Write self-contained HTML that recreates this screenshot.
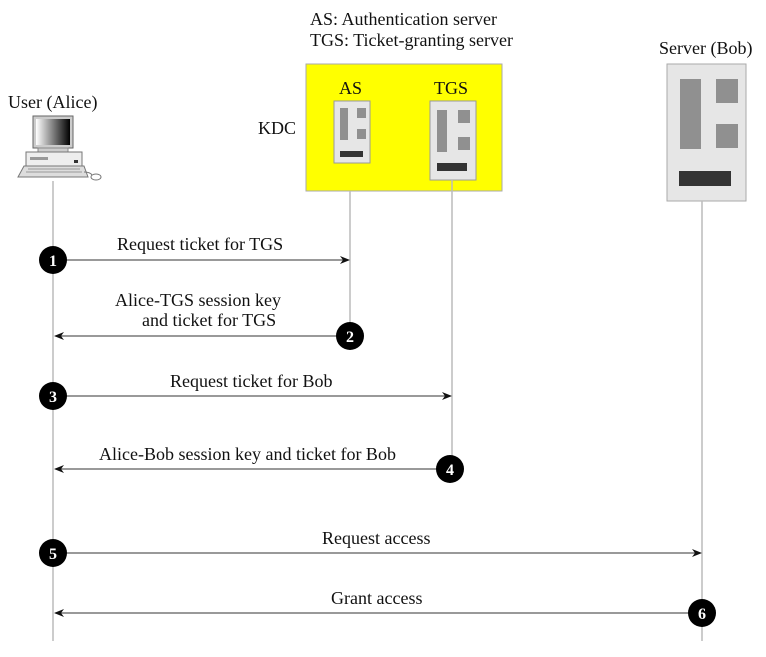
<!DOCTYPE html>
<html><head><style>
html,body{margin:0;padding:0;background:#fff;}
svg{display:block;}
text{font-family:"Liberation Serif",serif;font-size:18px;fill:#111;}
.c{fill:#fff;font-weight:bold;font-size:16px;}
</style></head><body>
<svg width="766" height="657" viewBox="0 0 766 657">
<defs><marker id="a" markerWidth="10" markerHeight="8" refX="9" refY="4" orient="auto" markerUnits="userSpaceOnUse"><path d="M0,0 L10,4 L0,8 L3,4z" fill="#111"/></marker></defs>
<text x="310" y="25">AS: Authentication server</text>
<text x="310" y="46">TGS: Ticket-granting server</text>
<text x="8" y="108">User (Alice)</text>
<text x="258" y="134">KDC</text>
<text x="659" y="54">Server (Bob)</text>
<!-- KDC -->
<rect x="306" y="64" width="196" height="127" fill="#ffff00" stroke="#aaa"/>
<text x="339" y="94">AS</text>
<text x="434" y="94">TGS</text>
<rect x="334" y="101" width="36" height="62" fill="#e6e6e6" stroke="#999"/>
<rect x="340" y="108" width="8" height="32" fill="#909090"/>
<rect x="357" y="108" width="9" height="10" fill="#909090"/>
<rect x="357" y="129" width="9" height="10" fill="#909090"/>
<rect x="340" y="151" width="23" height="6" fill="#333"/>
<rect x="430" y="101" width="46" height="79" fill="#e6e6e6" stroke="#999"/>
<rect x="437" y="110" width="10" height="42" fill="#909090"/>
<rect x="458" y="110" width="12" height="13" fill="#909090"/>
<rect x="458" y="137" width="12" height="13" fill="#909090"/>
<rect x="437" y="163" width="30" height="8" fill="#333"/>
<!-- Bob -->
<rect x="667" y="64" width="79" height="137" fill="#e6e6e6" stroke="#aaa"/>
<rect x="680" y="79" width="21" height="70" fill="#909090"/>
<rect x="716" y="79" width="22" height="24" fill="#909090"/>
<rect x="716" y="124" width="22" height="24" fill="#909090"/>
<rect x="679" y="171" width="52" height="15" fill="#333"/>
<!-- computer -->
<defs><linearGradient id="g" x1="0" x2="1"><stop offset="0" stop-color="#fff"/><stop offset="1" stop-color="#000"/></linearGradient></defs>
<rect x="33" y="116" width="40" height="32" fill="#ccc" stroke="#666"/>
<rect x="36" y="119" width="34" height="26" fill="url(#g)"/>
<rect x="38" y="148" width="30" height="4" fill="#ccc" stroke="#888"/>
<rect x="26" y="152" width="56" height="14" fill="#eee" stroke="#777"/>
<rect x="30" y="157" width="18" height="3" fill="#999"/>
<rect x="74" y="160" width="4" height="3" fill="#333"/>
<path d="M24 166 L84 166 L88 177 L18 177z" fill="#ddd" stroke="#777"/>
<path d="M28 169 L80 169 M26 172 L82 172" stroke="#999"/>
<ellipse cx="96" cy="177" rx="5" ry="3" fill="#fff" stroke="#777"/>
<path d="M84 172 Q90 172 92 175" fill="none" stroke="#777"/>
<!-- lifelines -->
<g stroke="#bbb" stroke-width="1.5">
<line x1="53" y1="181" x2="53" y2="641"/>
<line x1="350" y1="191" x2="350" y2="324"/>
<line x1="452" y1="180" x2="452" y2="457"/>
<line x1="702" y1="201" x2="702" y2="641"/>
</g>
<!-- arrows -->
<g stroke="#333" stroke-width="1">
<line x1="60" y1="260" x2="349" y2="260" marker-end="url(#a)"/>
<line x1="345" y1="336" x2="55" y2="336" marker-end="url(#a)"/>
<line x1="60" y1="396" x2="451" y2="396" marker-end="url(#a)"/>
<line x1="445" y1="469" x2="55" y2="469" marker-end="url(#a)"/>
<line x1="60" y1="553" x2="701" y2="553" marker-end="url(#a)"/>
<line x1="697" y1="613" x2="55" y2="613" marker-end="url(#a)"/>
</g>
<text x="117" y="250">Request ticket for TGS</text>
<text x="115" y="306">Alice-TGS session key</text>
<text x="142" y="326">and ticket for TGS</text>
<text x="170" y="387">Request ticket for Bob</text>
<text x="99" y="460">Alice-Bob session key and ticket for Bob</text>
<text x="322" y="544">Request access</text>
<text x="331" y="604">Grant access</text>
<!-- circles -->
<g fill="#000">
<circle cx="53" cy="260" r="14"/><circle cx="350" cy="336" r="14"/>
<circle cx="53" cy="396" r="14"/><circle cx="450" cy="469" r="14"/>
<circle cx="53" cy="553" r="14"/><circle cx="702" cy="613" r="14"/>
</g>
<g text-anchor="middle">
<text class="c" x="53" y="266">1</text><text class="c" x="350" y="342">2</text>
<text class="c" x="53" y="402">3</text><text class="c" x="450" y="475">4</text>
<text class="c" x="53" y="559">5</text><text class="c" x="702" y="619">6</text>
</g>
</svg>
</body></html>
